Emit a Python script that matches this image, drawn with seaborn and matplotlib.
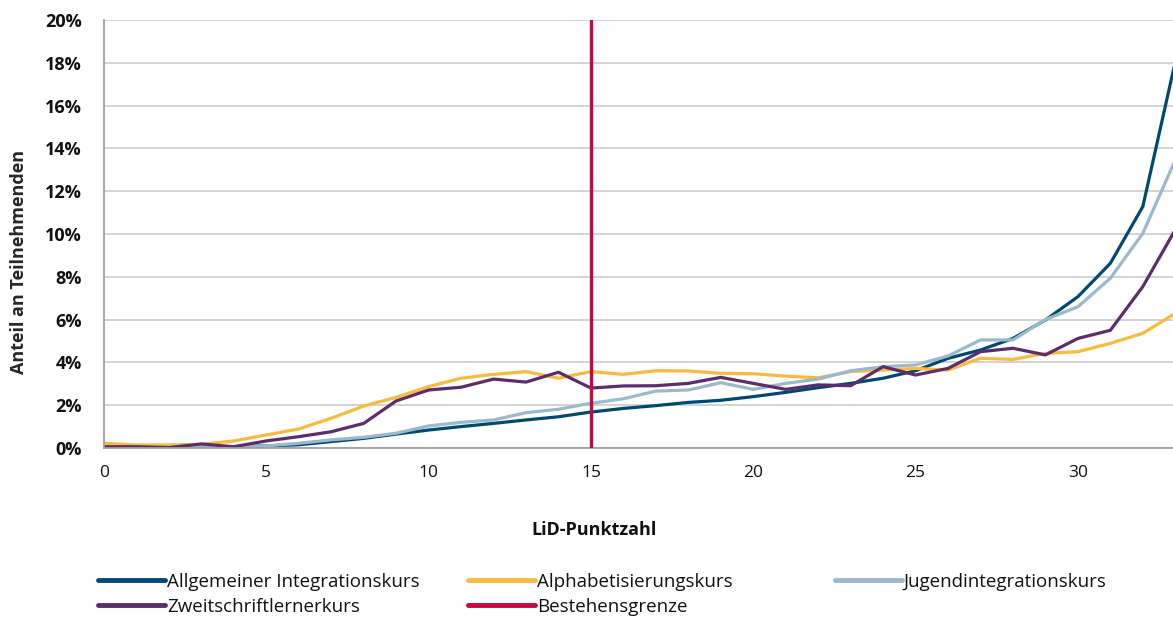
import pandas as pd
import numpy as np
import seaborn as sns
import matplotlib.pyplot as plt
from matplotlib.ticker import PercentFormatter

# LiD points 0..33, shares in percent
punkte = list(range(0, 34))

allgemein = [0.0, 0.0, 0.0, 0.05, 0.05, 0.1, 0.15, 0.3, 0.45, 0.65,
             0.84, 1.0, 1.15, 1.31, 1.46, 1.68, 1.85, 1.98, 2.13, 2.23,
             2.4, 2.6, 2.82, 3.02, 3.26, 3.61, 4.19, 4.58, 5.12, 5.98,
             7.07, 8.63, 11.28, 18.05]
alpha = [0.22, 0.14, 0.14, 0.17, 0.33, 0.61, 0.89, 1.39, 1.96, 2.37,
         2.87, 3.26, 3.44, 3.57, 3.26, 3.57, 3.44, 3.61, 3.6, 3.49,
         3.47, 3.36, 3.28, 3.57, 3.64, 3.72, 3.64, 4.19, 4.14, 4.42,
         4.5, 4.89, 5.36, 6.29]
jugend = [0.02, 0.02, 0.02, 0.1, 0.05, 0.1, 0.22, 0.38, 0.5, 0.69,
          1.03, 1.2, 1.31, 1.65, 1.81, 2.09, 2.3, 2.66, 2.71, 3.05,
          2.74, 3.02, 3.22, 3.61, 3.8, 3.88, 4.3, 5.05, 5.05, 6.0,
          6.6, 7.93, 10.03, 13.46]
zweit = [0.06, 0.06, 0.02, 0.19, 0.06, 0.33, 0.53, 0.76, 1.15, 2.2,
         2.71, 2.84, 3.22, 3.08, 3.54, 2.8, 2.9, 2.91, 3.02, 3.3,
         3.02, 2.74, 2.95, 2.91, 3.8, 3.41, 3.72, 4.5, 4.66, 4.35,
         5.12, 5.5, 7.54, 10.2]

kurse = ['Allgemeiner Integrationskurs', 'Alphabetisierungskurs',
         'Jugendintegrationskurs', 'Zweitschriftlernerkurs']
farben = ['#004a72', '#f7bb3d', '#9bb9cc', '#5c2d6c']
grenze = 15
grenze_farbe = '#c8063f'

df = pd.DataFrame({
    'punkte': punkte * 4,
    'anteil': allgemein + alpha + jugend + zweit,
    'kurs': np.repeat(kurse, len(punkte)),
})

sns.set_style('white')
plt.rcParams['font.family'] = ['Open Sans', 'DejaVu Sans']
plt.rcParams['text.color'] = '#111111'

fig = plt.figure(figsize=(11.73, 6.17), dpi=100)
ax = fig.add_axes([104 / 1173, 1 - 448 / 617, 1 - 104 / 1173, (448 - 20) / 617])

sns.lineplot(data=df, x='punkte', y='anteil', hue='kurs', hue_order=kurse,
             palette=farben, linewidth=2.3, ax=ax, legend=False)
ax.axvline(grenze, color=grenze_farbe, linewidth=2.4, zorder=5)

ax.set_xlim(0, 32.93)
ax.set_ylim(0, 20)
ax.set_yticks(range(0, 21, 2))
ax.set_xticks(range(0, 31, 5))
ax.yaxis.set_major_formatter(PercentFormatter(decimals=0))
ax.grid(axis='y', color='#d0d0d0', linewidth=1.3)
ax.set_axisbelow(True)
for s in ['top', 'right']:
    ax.spines[s].set_visible(False)
for s in ['left', 'bottom']:
    ax.spines[s].set_color('#a0a0a0')
    ax.spines[s].set_linewidth(1.3)
ax.tick_params(axis='x', length=5, color='#a0a0a0', width=1.3,
               labelsize=12.5, pad=7, labelcolor='#111111')
ax.tick_params(axis='y', length=0, labelsize=13, pad=16, labelcolor='#111111')
for t in ax.get_yticklabels():
    t.set_fontweight('bold')

ax.set_xlabel('')
ax.set_ylabel('Anteil an Teilnehmenden', fontsize=13, fontweight='bold')
ax.yaxis.set_label_coords(-0.071, 0.435)
fig.text(594 / 1173, 1 - 530 / 617, 'LiD-Punktzahl', fontsize=13,
         fontweight='bold', ha='center', va='center')

# legend in three fixed columns like the original
h = {k: plt.Line2D([], [], color=c, linewidth=3.5) for k, c in zip(kurse, farben)}
h['Bestehensgrenze'] = plt.Line2D([], [], color=grenze_farbe, linewidth=3.5)
spalten = [
    (98, ['Allgemeiner Integrationskurs', 'Zweitschriftlernerkurs']),
    (468, ['Alphabetisierungskurs', 'Bestehensgrenze']),
    (835, ['Jugendintegrationskurs']),
]
for x0, namen in spalten:
    fig.legend([h[n] for n in namen], namen, loc='upper left',
               bbox_to_anchor=(x0 / 1173, 1 - 573 / 617), frameon=False,
               fontsize=13.5, handlelength=3.55, handletextpad=0.12,
               labelspacing=0.37, borderpad=0, borderaxespad=0)

plt.savefig('out.png', dpi=100)
